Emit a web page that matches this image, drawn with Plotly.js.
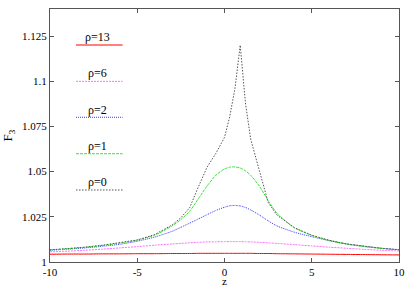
<!DOCTYPE html>
<html>
<head>
<meta charset="utf-8">
<script src="https://cdn.plot.ly/plotly-3.0.1.min.js"></script>
<style>html,body{margin:0;padding:0;background:#fff;}#chart{width:409px;height:286px;}</style>
</head>
<body>
<div id="chart"></div>
<script>
var z = [-10,-9,-8,-7,-6,-5,-4,-3,-2.5,-2,-1.5,-1,-0.5,0,0.3,0.6,0.9,1.2,1.5,2,2.5,3,4,5,6,7,8,9,10];
var rho0 = [1.0067,1.0073,1.0082,1.0093,1.0106,1.0122,1.0152,1.0205,1.0245,1.0300,1.0415,1.0525,1.0600,1.0690,1.0805,1.0960,1.1200,1.0880,1.0680,1.0510,1.0330,1.0260,1.0190,1.0148,1.0120,1.0100,1.0086,1.0076,1.0068];
var rho1 = [1.0067,1.0073,1.0081,1.0091,1.0104,1.0121,1.0148,1.0200,1.0235,1.0280,1.0350,1.0420,1.0480,1.0515,1.0525,1.0526,1.0520,1.0505,1.0480,1.0420,1.0340,1.0270,1.0190,1.0147,1.0119,1.0099,1.0085,1.0075,1.0067];
var rho2 = [1.0065,1.0071,1.0078,1.0087,1.0098,1.0115,1.0138,1.0170,1.0192,1.0215,1.0238,1.0262,1.0285,1.0303,1.0311,1.0313,1.0310,1.0302,1.0288,1.0260,1.0228,1.0200,1.0165,1.0140,1.0118,1.0100,1.0087,1.0076,1.0068];
var rho6 = [1.0056,1.0060,1.0065,1.0071,1.0078,1.0085,1.0093,1.0100,1.0103,1.0106,1.0109,1.0111,1.0112,1.0113,1.0113,1.0113,1.0113,1.0112,1.0111,1.0109,1.0106,1.0103,1.0096,1.0089,1.0082,1.0076,1.0070,1.0065,1.0061];
var rho13 = [1.0043,1.0044,1.0044,1.0045,1.0045,1.0046,1.0046,1.0047,1.0047,1.0047,1.0048,1.0048,1.0048,1.0048,1.0048,1.0048,1.0048,1.0048,1.0048,1.0047,1.0047,1.0046,1.0045,1.0044,1.0043,1.0042,1.0041,1.0040,1.0039];
var labels = ["ρ=13","ρ=6","ρ=2","ρ=1","ρ=0"];
var xTicks = [-10,-5,0,5,10];
var yTicks = [1,1.025,1.05,1.075,1.1,1.125];
var yTickText = ["1","1.025","1.05","1.075","1.1","1.125"];

var styles = [
  {color:"#ff0000", dash:"solid", shape:"spline"},
  {color:"#ff70ff", dash:"2px,1px", shape:"spline"},
  {color:"#3a3aff", dash:"1px,1px", shape:"spline"},
  {color:"#33e633", dash:"3px,1px", shape:"spline"},
  {color:"#555555", dash:"1.5px,1.5px", shape:"linear"}
];
var series = [rho13, rho6, rho2, rho1, rho0];
var traces = series.map(function(s,i){
  return {x:z, y:s, type:"scatter", mode:"lines", name:labels[i],
    line:{color:styles[i].color, width:1, dash:styles[i].dash, shape:styles[i].shape, smoothing:0.6},
    showlegend:false, hoverinfo:"skip"};
});

var FAM = "Liberation Serif";
var font = {family:FAM, size:11, color:"#000"};
var lineY = [0.8577,0.714,0.572,0.428,0.2846];
var textY = [0.8905,0.7458,0.6008,0.4585,0.3174];
var shapes = [], annotations = [];
for (var i=0;i<labels.length;i++){
  shapes.push({type:"line", xref:"paper", yref:"paper", x0:0.0745, x1:0.208, y0:lineY[i], y1:lineY[i],
    line:{color:styles[i].color, width:1, dash:styles[i].dash}});
  annotations.push({xref:"paper", yref:"paper", x:0.1375, y:textY[i], text:labels[i], showarrow:false,
    xanchor:"center", yanchor:"middle", font:{family:FAM, size:12, color:"#000"}});
}
annotations.push({xref:"paper", yref:"paper", x:0.5, y:0, yshift:-19, text:"z", showarrow:false,
  xanchor:"center", yanchor:"middle", font:{family:FAM, size:11, color:"#000"}});

var layout = {
  width:409, height:286,
  margin:{l:50, r:10, t:9, b:24, pad:0},
  paper_bgcolor:"#fff", plot_bgcolor:"#fff",
  font:font,
  showlegend:false,
  xaxis:{range:[-10,10], tickvals:xTicks, ticktext:xTicks.map(String), ticks:"inside", ticklen:4,
    tickcolor:"#555", mirror:"ticks", showline:true, linecolor:"#555", linewidth:1, showgrid:false,
    zeroline:false, tickfont:font},
  yaxis:{range:[1,1.14], tickvals:yTicks, ticktext:yTickText, ticks:"inside", ticklen:4,
    tickcolor:"#555", mirror:"ticks", showline:true, linecolor:"#555", linewidth:1, showgrid:false,
    zeroline:false, tickfont:font, title:{text:"F<sub>3</sub>", font:{family:FAM, size:13, color:"#000"}, standoff:6}},
  shapes:shapes,
  annotations:annotations
};
Plotly.newPlot("chart", traces, layout, {staticPlot:true, displayModeBar:false});
</script>
</body>
</html>
